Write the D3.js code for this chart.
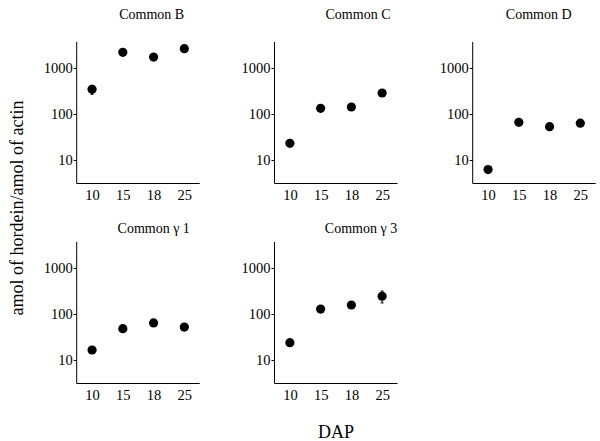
<!DOCTYPE html>
<html><head><meta charset="utf-8">
<script src="https://cdn.jsdelivr.net/npm/d3@7"></script>
<style>
body{margin:0;background:#fff;}
svg{display:block;}
text{font-family:"Liberation Serif","Times New Roman",serif;fill:#000;}
</style></head>
<body><svg id="c" width="600" height="441"></svg>
<script>
const categories = ["10","15","18","25"];
const panelTitles = ["Common B","Common C","Common D","Common γ 1","Common γ 3"];
const valuesB  = [344, 2190, 1730, 2630];
const valuesC  = [23, 133, 142, 286];
const valuesD  = [6.2, 66, 53, 63];
const valuesG1 = [16.5, 48, 64, 52];
const valuesG3 = [23.8, 128, 157, 243];
const errLowB  = [268, null, null, null];
const errHighB = [420, null, null, null];
const errLowG3 = [null, null, null, 174];
const errHighG3= [null, null, null, 316];
const yTicks = [10, 100, 1000];
const xLabel = "DAP";
const yLabel = "amol of hordein/amol of actin";

const series = [
  {title: panelTitles[0], v: valuesB, lo: errLowB, hi: errHighB},
  {title: panelTitles[1], v: valuesC},
  {title: panelTitles[2], v: valuesD},
  {title: panelTitles[3], v: valuesG1},
  {title: panelTitles[4], v: valuesG3, lo: errLowG3, hi: errHighG3}
];

// layout
const colLeft = [76.7, 274.5, 472.7];
const rowTop = [42, 242];
const pw = 123, ph = 141.5;
const titleDx = [75, 83.5, 66, 77, 86.5];
const titleDy = [-23, -9];

const svg = d3.select("#c");
const x = d3.scalePoint().domain(categories).range([0, pw]).padding(0.5);
const y = d3.scaleLog().domain([Math.pow(10,0.489), Math.pow(10,3.565)]).range([ph, 0]);

series.forEach((s, i) => {
  const col = i % 3, row = Math.floor(i / 3);
  const g = svg.append("g").attr("transform", `translate(${colLeft[col]},${rowTop[row]})`);
  // y axis
  const ya = g.append("g").call(d3.axisLeft(y).tickValues(yTicks).tickFormat(d3.format("d")).tickSize(3).tickSizeOuter(0));
  ya.select(".domain").attr("stroke","#000").attr("d", `M0,0V${ph}`);
  ya.selectAll(".tick line").attr("stroke","#000");
  ya.selectAll(".tick text").attr("font-size", 14.5).attr("x", -4).attr("font-family","Liberation Serif");
  // x axis
  const xa = g.append("g").attr("transform", `translate(0,${ph})`).call(d3.axisBottom(x).tickSize(0).tickSizeOuter(0));
  xa.select(".domain").attr("stroke","#000").attr("d", `M0,0H${pw}`);
  xa.selectAll(".tick text").attr("font-size", 14.5).attr("y", 6).attr("font-family","Liberation Serif");
  // title
  g.append("text").attr("x", titleDx[i]).attr("y", titleDy[row]).attr("text-anchor","middle")
    .attr("font-size", 14).text(s.title);
  // error bars
  if (s.lo) {
    categories.forEach((c, j) => {
      if (s.lo[j] == null) return;
      const cx = x(c);
      g.append("line").attr("x1", cx).attr("x2", cx).attr("y1", y(s.lo[j])).attr("y2", y(s.hi[j])).attr("stroke","#000").attr("stroke-width",1);
      [s.lo[j], s.hi[j]].forEach(v => g.append("line").attr("x1", cx-1.5).attr("x2", cx+1.5).attr("y1", y(v)).attr("y2", y(v)).attr("stroke","#000"));
    });
  }
  // points
  g.selectAll("circle").data(s.v).join("circle")
    .attr("cx", (d, j) => x(categories[j])).attr("cy", d => y(d)).attr("r", 4.6).attr("fill","#000");
});

svg.append("text").attr("x", 336).attr("y", 438).attr("text-anchor","middle").attr("font-size",18).text(xLabel);
svg.append("text").attr("transform","translate(23,208) rotate(-90)").attr("text-anchor","middle").attr("font-size",18).text(yLabel);
</script></body></html>
